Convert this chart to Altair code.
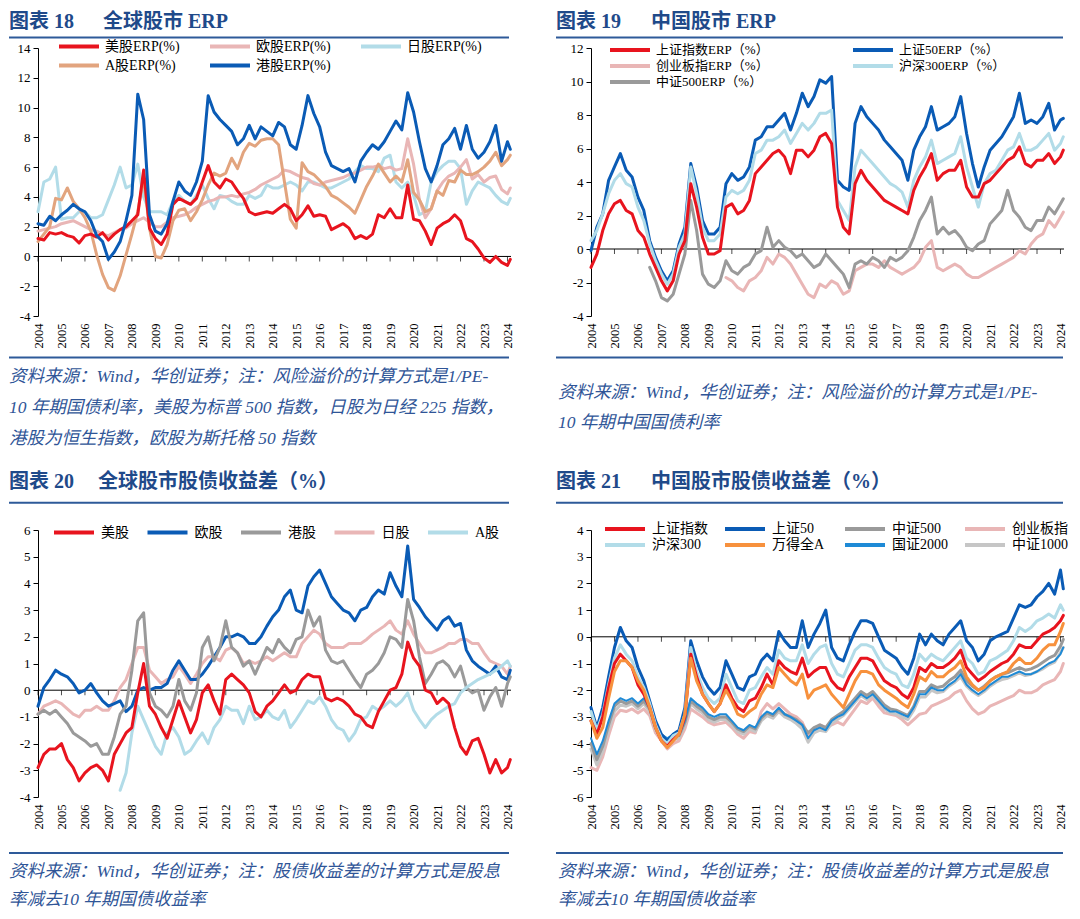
import altair as alt
import pandas as pd

# ---------------- shared x positions (quarterly readings) ----------------
YEARS = [2004 + 0.25 * i for i in range(81)] + [2024.12]
TICK_YEARS = list(range(2004, 2025))

# ---------------- 图表18 全球股市ERP ----------------
F18_NAMES = ["美股ERP(%)", "欧股ERP(%)", "日股ERP(%)", "A股ERP(%)", "港股ERP(%)"]
F18_US = [1.2,1.1,1.6,1.5,1.6,1.4,1.3,0.9,1.4,1.5, 1.3,1.6,1.1,1.5,1.8,2.0,2.4,2.8,5.8,1.9,
          1.2,0.8,1.5,3.5,3.9,3.7,3.5,3.9,5.0,6.1, 5.0,4.6,5.2,5.0,4.4,3.9,3.0,2.8,2.9,3.0,
          2.9,3.2,3.5,3.2,2.4,2.8,3.4,2.7,2.8,2.7, 1.8,2.0,2.2,1.9,1.2,1.4,1.2,1.5,2.8,2.6,
          3.2,2.6,2.6,4.8,2.5,2.4,1.7,0.8,1.9,2.2, 2.4,2.8,2.4,1.2,1.0,0.5,-0.1,-0.4,0.0,-0.4,
          -0.6,-0.2]
F18_EU = [1.7,1.8,1.9,2.0,2.2,2.3,2.4,2.2,2.0,1.8, 1.7,1.5,1.4,1.6,1.8,1.9,2.2,2.4,2.6,2.3,
          2.0,2.0,2.3,2.6,2.7,2.8,3.0,3.3,3.5,3.7, 3.8,4.0,4.0,4.1,4.0,4.2,4.3,4.5,4.8,5.0,
          5.2,5.4,5.8,5.7,5.5,5.3,5.2,4.9,4.8,5.0, 5.1,5.2,5.3,5.5,5.6,5.8,6.0,6.0,6.1,5.9,
          6.0,5.8,5.9,7.9,6.2,3.8,2.6,3.2,4.4,5.0, 5.4,5.6,6.0,6.5,5.2,5.5,5.0,5.3,5.4,4.5,
          4.2,4.6]
F18_JP = [3.0,5.0,5.2,6.0,2.5,2.6,2.6,3.0,3.0,2.6, 2.6,2.8,3.8,4.8,6.0,4.6,4.8,6.2,4.0,3.0,
          3.0,3.0,2.8,3.7,4.1,3.7,3.5,4.1,4.8,3.9, 3.2,4.1,4.0,3.7,3.5,3.5,4.1,3.9,4.1,4.8,
          4.6,4.6,4.8,5.0,4.8,4.4,5.0,5.0,4.8,4.6, 4.6,4.8,5.0,5.2,5.7,6.1,5.9,5.9,5.7,6.6,
          6.8,5.0,4.6,5.0,4.1,2.8,3.0,5.0,5.7,6.1, 6.4,6.4,5.9,3.5,4.4,5.0,4.8,4.6,4.1,3.7,
          3.5,3.9]
F18_A = [1.0,1.5,2.0,3.9,3.8,4.6,3.7,3.2,2.6,1.7, 0.1,-1.2,-2.1,-2.3,-1.3,0.1,1.5,3.0,5.3,1.9,
         0.0,-0.1,0.8,2.4,3.1,3.2,2.4,3.0,3.8,4.8, 5.6,5.4,5.6,6.6,5.9,7.0,7.6,7.4,7.8,7.9,
         7.9,7.5,5.0,2.5,1.9,6.3,5.7,5.5,5.1,4.7, 4.1,3.9,3.6,3.3,2.9,3.8,4.7,5.4,6.2,5.6,
         5.0,5.4,5.0,6.5,4.3,3.8,3.0,3.2,4.4,4.1, 5.1,5.0,5.8,5.5,5.5,5.7,6.0,6.4,7.0,6.1,
         6.5,6.8]
F18_HK = [2.2,2.1,2.7,2.4,2.8,3.1,3.5,3.2,3.0,2.4, 1.4,1.0,-0.2,0.3,1.0,2.4,4.1,10.9,9.2,2.8,
          1.7,1.5,2.2,3.7,5.0,4.4,4.1,5.0,6.4,10.8, 9.7,9.2,8.8,8.4,7.5,7.9,8.8,7.9,8.7,8.4,
          8.1,9.0,8.7,7.5,7.2,8.8,10.8,9.6,8.7,7.0, 6.1,5.9,5.7,5.9,5.0,6.4,7.0,7.5,7.2,7.7,
          8.4,9.1,8.5,11.0,9.7,7.7,5.9,5.0,6.1,7.5, 7.9,8.6,7.2,8.8,7.2,6.6,7.0,7.7,8.8,6.4,
          7.7,7.2]

# ---------------- 图表19 中国股市ERP ----------------
F19_NAMES = ["上证指数ERP（%）", "上证50ERP（%）", "创业板指ERP（%）", "沪深300ERP（%）", "中证500ERP（%）"]
F19_SH = [-1.1,-0.3,1.1,2.1,2.7,2.9,2.3,2.1,1.1,0.7, -0.3,-1.1,-1.9,-2.5,-1.9,-0.3,0.5,3.9,2.5,0.7,
          -0.3,-0.3,-0.1,2.5,2.7,2.1,2.3,2.9,4.5,4.9, 5.3,5.7,5.9,5.5,4.5,5.9,5.9,5.5,5.9,6.7,
          6.9,6.3,2.5,1.3,0.9,3.9,4.7,4.1,3.7,3.3, 2.9,2.7,2.5,2.3,2.1,3.5,4.3,4.9,5.7,4.1,
          4.5,4.7,4.7,5.3,3.7,3.1,3.1,3.9,4.1,4.5, 4.9,5.3,5.5,6.1,5.1,4.9,5.3,5.3,5.7,5.1,
          5.5,5.9]
F19_SH50 = [-0.1,1.3,2.1,4.1,4.9,5.7,4.7,4.3,3.1,2.3, 0.5,-0.5,-1.3,-1.9,-1.3,0.3,1.3,5.1,3.7,1.7,
            0.9,0.9,1.3,3.9,4.5,4.1,4.3,4.9,6.5,6.7, 7.3,7.3,7.7,8.1,7.1,8.1,9.3,8.5,9.1,10.1,
            9.9,10.3,4.1,3.7,3.5,7.5,8.5,7.9,7.5,7.1, 6.5,6.1,5.7,5.3,4.1,5.9,6.7,7.3,8.5,7.1,
            7.3,7.5,7.9,9.1,6.9,5.1,3.7,4.9,5.9,6.3, 6.7,7.3,7.9,9.3,7.5,7.7,7.5,7.9,8.7,7.1,
            7.7,7.8]
F19_CYB = [None] * 23 + [
    -1.7,-1.9,-2.3,-2.5,-1.9,-1.7,-1.3,-0.5,-0.9,-0.3, -0.5,-0.9,-1.5,-2.1,-2.7,-2.9,-2.1,-2.3,-1.9,-2.1,
    -2.7,-2.5,-1.3,-1.1,-0.9,-0.9,-1.1,-0.7,-1.1,-1.3, -1.5,-1.3,-1.1,-0.7,0.1,0.5,-1.1,-1.3,-1.1,-0.9,
    -1.1,-1.5,-1.7,-1.7,-1.5,-1.3,-1.1,-0.9,-0.7,-0.5, -0.1,-0.3,0.3,0.7,0.9,1.7,1.3,1.9,2.2]
F19_HS300 = [0.5,1.1,2.1,3.3,4.1,4.5,3.9,3.7,2.5,1.7, 0.3,-0.7,-1.5,-2.1,-1.5,0.1,0.9,4.9,3.3,1.3,
             0.5,0.5,0.9,3.1,3.5,3.3,3.5,4.1,5.7,5.9, 6.5,6.5,6.7,7.1,6.3,6.9,7.5,7.1,7.5,8.1,
             8.1,8.3,2.9,2.3,1.7,4.9,5.9,5.5,5.1,4.7, 4.3,3.9,3.7,3.4,2.5,4.1,4.9,5.5,6.5,5.1,
             5.3,5.5,5.7,6.7,4.9,3.7,2.5,3.9,4.5,4.7, 5.3,5.9,6.1,6.9,5.9,5.9,6.1,6.5,6.9,5.9,
             6.3,6.7]
F19_ZZ500 = [None] * 10 + [
    -1.1,-1.9,-2.9,-3.1,-2.7,-1.5,-0.3,2.9,1.1,-1.5, -2.1,-2.3,-1.9,-0.7,-1.3,-1.5,-1.1,-0.9,-0.3,-0.1,
    1.3,0.1,0.5,0.1,-0.1,-0.5,-0.3,-0.7,-1.1,-0.9, -0.3,-0.7,-1.1,-1.5,-2.3,-0.9,-0.7,-0.9,-0.5,-0.7,
    -1.1,-0.5,-0.7,-0.5,-0.1,0.7,1.7,2.3,3.1,0.9, 1.3,0.9,1.1,0.7,0.1,-0.1,0.3,0.5,1.5,1.9,
    2.3,3.5,2.3,1.9,1.3,1.1,1.7,1.7,2.5,2.1, 2.7,3.0]

# ---------------- 图表20 全球股市股债收益差 ----------------
F20_NAMES = ["美股", "欧股", "港股", "日股", "A股"]
F20_US = [-2.9,-2.4,-2.2,-2.2,-2.0,-2.6,-2.9,-3.4,-3.1,-2.9, -2.8,-3.0,-3.4,-2.4,-2.0,-1.6,-1.4,-0.1,1.0,-0.6,
          -0.9,-1.4,-1.8,-1.1,-0.4,-1.0,-1.6,-1.1,-0.1,0.2, -0.4,-0.9,0.4,0.6,0.4,0.2,-0.1,-0.8,-1.0,-0.6,
          -0.4,-0.1,0.2,-0.1,0.0,0.4,0.6,0.5,0.5,-0.3, -0.4,-0.3,-0.4,-0.6,-0.9,-1.0,-1.3,-1.4,-0.8,-0.4,
          0.0,0.1,0.6,1.8,1.2,0.9,0.0,-0.1,-0.5,-0.3, -0.5,-1.4,-2.1,-2.4,-1.9,-1.8,-2.4,-3.1,-2.6,-3.1,
          -2.9,-2.6]
F20_EU = [-0.6,0.1,0.4,0.75,0.6,0.5,0.25,-0.1,0.0,0.25, -0.1,-0.4,-0.6,-0.5,-0.4,-0.8,-0.6,0.0,0.1,0.0,
          0.1,0.1,0.25,0.75,1.1,0.75,0.4,0.4,0.6,0.9, 1.25,1.6,2.0,2.0,2.1,2.0,1.75,1.75,2.0,2.4,
          2.75,3.0,3.5,3.75,3.0,2.9,3.9,4.25,4.5,4.0, 3.5,3.25,3.0,2.9,2.6,3.0,3.1,3.5,3.75,3.6,
          4.4,3.9,3.5,5.4,3.4,3.1,2.75,2.5,2.25,2.6, 2.75,2.4,2.5,1.5,1.1,0.9,0.75,0.6,0.9,0.5,
          0.4,0.75]
F20_HK = [-0.9,-0.75,-0.9,-0.75,-1.0,-1.25,-1.6,-1.75,-1.9,-2.1, -2.0,-2.4,-2.4,-1.75,-0.9,-0.6,0.75,2.6,2.9,-0.1,
          -0.6,-0.75,-1.0,-0.6,0.4,-0.4,-0.75,-0.1,1.6,2.0, 1.1,1.6,2.6,1.6,1.4,0.9,1.1,0.6,1.1,1.6,
          1.4,1.9,1.6,1.4,1.9,2.0,3.0,2.4,2.75,1.5, 1.1,1.0,1.1,0.75,0.4,0.1,0.6,0.75,1.0,1.4,
          2.0,1.9,1.6,3.4,2.6,1.25,0.25,0.6,1.0,1.1, 0.9,0.5,0.9,0.1,-0.1,0.0,-0.75,-0.25,0.1,-0.6,
          0.25,0.5]
F20_JP = [-0.9,-0.6,-0.5,-0.4,-0.5,-0.7,-0.9,-1.0,-0.75,-0.75, -0.6,-0.75,-0.75,-0.4,0.1,0.4,1.0,1.6,1.6,0.75,
          0.5,0.25,0.4,0.5,0.9,0.6,0.25,0.6,1.0,1.25, 1.25,1.1,1.5,1.6,1.4,1.0,1.1,1.0,1.1,1.25,
          1.1,1.25,1.4,1.25,1.25,1.75,2.0,2.25,2.1,1.75, 1.6,1.6,1.6,1.75,1.75,1.75,1.9,2.1,2.25,2.4,
          2.6,2.25,2.1,2.6,2.1,1.75,1.4,1.4,1.5,1.6, 1.75,1.75,1.9,1.9,1.75,1.75,1.4,1.1,1.0,0.9,
          0.6,0.9]
F20_A = [None] * 14 + [
    -3.75,-3.1,-1.6,-0.6,-1.1,-1.6,-2.1,-2.4,-1.6,-1.4, -1.75,-2.4,-2.25,-1.9,-1.6,-2.0,-1.4,-1.1,-0.6,-0.75,
    -0.75,-1.25,-0.6,-1.1,-1.0,-0.75,-1.0,-1.1,-0.75,-1.4, -1.1,-0.75,-0.4,-0.5,-0.25,-0.6,-1.1,-1.4,-1.5,-1.9,
    -1.6,-1.1,-1.0,-0.6,-0.75,-0.6,-0.4,-0.6,-0.4,-0.1, -0.75,-1.1,-1.4,-1.1,-0.9,-0.75,-0.6,-0.5,-0.1,0.1,
    0.25,0.4,0.5,0.6,0.75,0.9,1.1,0.9]

# ---------------- 图表21 中国股市股债收益差 ----------------
F21_NAMES = ["上证指数", "上证50", "中证500", "创业板指", "沪深300", "万得全A", "国证2000", "中证1000"]
F21_SH = [-3.15,-3.65,-3.0,-1.9,-1.0,-0.65,-0.9,-1.15,-1.8,-2.15, -2.65,-3.4,-3.9,-4.1,-3.85,-3.65,-3.0,-0.65,-1.5,-2.15,
          -2.5,-2.8,-2.5,-1.8,-2.3,-2.65,-2.8,-2.4,-2.3,-1.9, -1.4,-1.8,-0.9,-1.15,-1.3,-1.4,-0.8,-1.5,-1.3,-1.15,
          -1.15,-1.65,-1.9,-2.0,-1.5,-1.15,-0.8,-0.8,-0.9,-1.3, -1.65,-1.8,-1.9,-2.15,-2.3,-1.9,-1.15,-1.3,-1.0,-1.15,
          -1.15,-1.0,-0.8,-0.5,-1.15,-1.4,-1.65,-1.5,-1.3,-1.15, -1.0,-0.9,-0.65,-0.3,-0.4,-0.4,-0.15,0.1,0.2,0.35,
          0.6,0.8]
F21_SH50 = [-2.65,-3.4,-2.65,-1.5,-0.4,0.35,-0.15,-0.4,-1.15,-1.65, -2.4,-3.15,-3.65,-3.9,-3.65,-3.5,-2.65,-0.15,-0.9,-1.5,
            -1.9,-2.15,-1.9,-0.9,-1.4,-1.9,-2.0,-1.5,-1.4,-0.9, -0.65,-0.9,0.2,-0.15,-0.4,-0.4,0.6,-0.4,0.1,0.5,
            1.0,-0.4,-0.8,-0.9,-0.3,0.2,0.6,0.6,0.5,0.0, -0.5,-0.65,-0.8,-1.15,-1.4,-0.8,0.1,-0.3,0.1,-0.15,
            -0.3,0.1,0.35,0.6,-0.15,-0.4,-0.9,-0.65,-0.15,0.0, 0.1,0.2,0.7,1.2,1.1,1.2,1.5,1.7,2.0,1.6,
            2.5,1.8]
F21_ZZ500 = [-4.0,-4.6,-4.1,-3.3,-2.6,-2.4,-2.5,-2.4,-2.6,-2.4, -2.7,-3.4,-3.7,-3.85,-3.7,-3.7,-3.2,-2.4,-2.6,-2.75,
             -3.0,-3.1,-3.0,-3.0,-3.2,-3.45,-3.55,-3.35,-3.45,-3.05, -2.85,-2.95,-2.7,-2.9,-3.0,-3.1,-3.3,-3.6,-3.4,-3.3,
             -3.4,-3.1,-2.95,-2.8,-2.55,-2.3,-2.05,-2.2,-2.05,-2.3, -2.55,-2.7,-2.75,-2.85,-2.95,-2.6,-2.05,-2.05,-1.8,-1.9,
             -1.85,-1.65,-1.5,-1.25,-1.65,-1.85,-2.0,-1.85,-1.65,-1.5, -1.4,-1.35,-1.25,-1.15,-1.25,-1.2,-1.1,-0.95,-0.8,-0.7,
             -0.35,-0.1]
F21_CYB = [-4.9,-5.0,-4.5,-3.7,-3.0,-2.75,-2.8,-2.7,-2.85,-2.7, -2.95,-3.6,-3.9,-4.2,-4.0,-3.9,-3.45,-2.7,-2.85,-3.0,
           -3.2,-3.3,-3.25,-3.2,-3.4,-3.65,-3.8,-3.55,-3.6,-2.8, -2.5,-2.7,-2.5,-2.7,-2.9,-3.0,-3.2,-3.7,-3.5,-3.3,
           -3.4,-3.3,-3.2,-3.3,-3.0,-2.7,-2.4,-2.5,-2.3,-2.6, -2.85,-2.9,-2.95,-3.1,-3.3,-3.1,-2.9,-2.85,-2.6,-2.5,
           -2.4,-2.3,-2.1,-2.0,-2.4,-2.7,-2.9,-2.8,-2.6,-2.5, -2.4,-2.3,-2.2,-2.0,-2.1,-2.1,-2.0,-1.8,-1.7,-1.6,
           -1.3,-1.0]
F21_HS300 = [-2.8,-3.5,-2.9,-1.8,-0.8,-0.3,-0.65,-0.9,-1.5,-1.9, -2.5,-3.3,-3.8,-4.0,-3.7,-3.6,-2.9,-0.4,-1.3,-1.9,
             -2.3,-2.5,-2.3,-1.4,-1.9,-2.4,-2.5,-2.0,-1.9,-1.5, -1.15,-1.4,-0.5,-0.8,-0.9,-0.9,-0.3,-1.0,-0.65,-0.4,
             -0.3,-1.0,-1.4,-1.5,-1.0,-0.5,-0.3,-0.3,-0.4,-0.8, -1.15,-1.3,-1.4,-1.8,-1.9,-1.4,-0.65,-0.9,-0.65,-0.8,
             -0.9,-0.65,-0.4,-0.15,-0.8,-1.0,-1.4,-1.3,-0.9,-0.8, -0.65,-0.5,-0.15,0.35,0.2,0.35,0.6,0.7,0.85,0.7,
             1.2,1.0]
F21_WDQA = [-3.15,-3.8,-3.4,-2.3,-1.3,-0.9,-0.9,-1.15,-1.65,-2.0, -2.65,-3.4,-3.9,-4.15,-3.9,-3.65,-2.9,-0.8,-1.65,-2.15,
            -2.5,-2.8,-2.5,-2.0,-2.4,-2.9,-3.0,-2.8,-2.65,-2.15, -1.8,-1.9,-1.15,-1.4,-1.65,-1.8,-1.4,-2.3,-2.0,-1.9,
            -1.8,-2.15,-2.4,-2.65,-2.15,-1.65,-1.3,-1.3,-1.4,-1.8, -2.0,-2.15,-2.3,-2.5,-2.65,-2.15,-1.5,-1.65,-1.3,-1.5,
            -1.5,-1.3,-1.15,-0.9,-1.5,-1.8,-2.0,-1.9,-1.65,-1.5, -1.4,-1.3,-1.0,-0.8,-1.0,-1.0,-0.8,-0.5,-0.3,-0.3,
            0.2,0.5]
F21_GZ2000 = [-3.8,-4.4,-3.9,-3.15,-2.5,-2.3,-2.4,-2.3,-2.5,-2.3, -2.65,-3.4,-3.65,-3.8,-3.65,-3.65,-3.15,-2.3,-2.5,-2.65,
              -2.9,-3.0,-2.9,-2.9,-3.15,-3.4,-3.5,-3.3,-3.4,-3.0, -2.8,-2.9,-2.65,-2.9,-3.0,-3.15,-3.3,-3.8,-3.5,-3.4,
              -3.5,-3.15,-3.0,-2.9,-2.65,-2.4,-2.15,-2.3,-2.15,-2.4, -2.65,-2.8,-2.8,-2.9,-3.0,-2.65,-2.15,-2.15,-1.9,-2.0,
              -2.0,-1.8,-1.65,-1.4,-1.8,-2.0,-2.15,-2.0,-1.8,-1.65, -1.5,-1.5,-1.4,-1.3,-1.4,-1.4,-1.3,-1.15,-1.0,-0.9,
              -0.65,-0.4]
F21_ZZ1000 = [-4.2,-4.8,-4.3,-3.5,-2.8,-2.55,-2.6,-2.5,-2.7,-2.5, -2.8,-3.5,-3.8,-4.0,-3.85,-3.8,-3.3,-2.5,-2.7,-2.85,
              -3.1,-3.2,-3.1,-3.1,-3.3,-3.55,-3.65,-3.45,-3.55,-3.15, -2.95,-3.05,-2.8,-3.0,-3.1,-3.25,-3.45,-3.95,-3.6,-3.5,
              -3.55,-3.25,-3.1,-2.95,-2.7,-2.45,-2.2,-2.35,-2.2,-2.45, -2.7,-2.85,-2.9,-3.0,-3.1,-2.75,-2.25,-2.25,-2.0,-2.1,
              -2.05,-1.85,-1.7,-1.5,-1.85,-2.05,-2.2,-2.05,-1.85,-1.7, -1.6,-1.55,-1.45,-1.35,-1.45,-1.4,-1.3,-1.2,-1.05,-0.95,
              -0.6,-0.4]

# ---------------- styling ----------------
FONT = "Liberation Serif, Noto Sans CJK SC"
TITLE_C = "#1F4A8A"
RULE_C = "#2E5A99"
NOTE_C = "#2F5597"
RED, BLUE, PINK, LBLUE = "#E8141E", "#0A5BB5", "#E9B6B6", "#B2DCE8"
TAN, GRAY, ORANGE, MBLUE, LGRAY = "#E2A47E", "#9A9A9A", "#F7913D", "#1E8AD6", "#C6C6C6"
W = 473
SYM = "M-4,0L4,0"
NOTE_FS = 17.5
T1 = -26.5   # title offset above the plot, top row


def make_panel(names, colors, values, order, widths, ydom, ystep, H, leg, texts, rules):
    rows = []
    for name, vals in zip(names, values):
        for x, v in zip(YEARS, vals):
            if v is not None:
                rows.append({"year": x, "value": v, "s": name})
    df = pd.DataFrame(rows)

    x_axis = alt.Axis(values=TICK_YEARS, format="d", labelAngle=-90, labelFont=FONT,
                      labelFontSize=12.5, labelColor="black", ticks=False, tickSize=0,
                      domain=False, grid=False, labelPadding=7, title=None,
                      labelOverlap=False, labelFlush=False, labelBound=False)
    yvals = list(range(ydom[0], ydom[1] + 1, ystep))
    y_axis = alt.Axis(values=yvals, labelExpr="'' + datum.value", title=None, grid=False,
                      domainColor="black", tickColor="black", tickSize=5, labelFont=FONT,
                      labelFontSize=13, labelColor="black", labelPadding=3, labelFlush=False)
    x_enc = alt.X("year:Q", scale=alt.Scale(domain=[2004, 2024.15], nice=False, zero=False), axis=x_axis)
    y_enc = alt.Y("value:Q", scale=alt.Scale(domain=list(ydom), nice=False, zero=False), axis=y_axis)
    legend = alt.Legend(orient="none", legendX=leg["x"], legendY=leg["y"], direction="horizontal",
                        columns=leg["cols"], title=None, symbolType=SYM, symbolSize=100,
                        symbolStrokeWidth=4, labelFont=FONT, labelFontSize=leg["fs"],
                        labelColor="black", labelOffset=leg["lo"], columnPadding=leg["cp"],
                        rowPadding=leg["rp"], gridAlign="all", padding=0)
    c_enc = alt.Color("s:N", scale=alt.Scale(domain=names, range=colors), legend=legend)

    layers = [
        alt.Chart(pd.DataFrame({"value": [0.0]})).mark_rule(color="black", strokeWidth=1).encode(y=y_enc),
        alt.Chart(pd.DataFrame({"year": TICK_YEARS, "value": [0.0] * len(TICK_YEARS)}))
        .mark_tick(orient="vertical", size=5, thickness=1, color="black", yOffset=2.5)
        .encode(x=x_enc, y=y_enc),
    ]
    for name in order:
        sub = df[df["s"] == name]
        layers.append(
            alt.Chart(sub).mark_line(strokeWidth=widths.get(name, 3), strokeJoin="round", strokeCap="round")
            .encode(x=x_enc, y=y_enc, color=c_enc)
        )
    for (t, x, y, size, color, weight, style) in texts:
        layers.append(
            alt.Chart(pd.DataFrame({"t": [t]}))
            .mark_text(align="left", baseline="middle", font=FONT, fontSize=size, color=color,
                       fontWeight=weight, fontStyle=style)
            .encode(text="t:N", x=alt.value(x), y=alt.value(y))
        )
    for (x1, x2, y) in rules:
        layers.append(
            alt.Chart(pd.DataFrame({"a": [0]})).mark_rule(color=RULE_C, strokeWidth=2)
            .encode(x=alt.value(x1), x2=alt.value(x2), y=alt.value(y))
        )
    return alt.layer(*layers).properties(width=W, height=H)


H1, H2 = 268, 267

p1 = make_panel(
    F18_NAMES, [RED, PINK, LBLUE, TAN, BLUE], [F18_US, F18_EU, F18_JP, F18_A, F18_HK],
    ["日股ERP(%)", "欧股ERP(%)", "A股ERP(%)", "美股ERP(%)", "港股ERP(%)"], {},
    (-4, 14), 2, H1,
    {"x": 34, "y": -8.5, "cols": 3, "fs": 14, "lo": 19, "cp": 22, "rp": 3},
    [("图表 18", -29, T1, 20, TITLE_C, "bold", "normal"),
     ("全球股市 ERP", 65, T1, 20, TITLE_C, "bold", "normal"),
     ("资料来源：Wind，华创证券；注：风险溢价的计算方式是1/PE-", -29, 328.5, NOTE_FS, NOTE_C, "normal", "italic"),
     ("10 年期国债利率，美股为标普 500 指数，日股为日经 225 指数，", -29, 360, NOTE_FS, NOTE_C, "normal", "italic"),
     ("港股为恒生指数，欧股为斯托格 50 指数", -29, 391, NOTE_FS, NOTE_C, "normal", "italic")],
    [(-29, 471, -10.5), (-29, 471, 309.5)],
)

p2 = make_panel(
    F19_NAMES, [RED, BLUE, PINK, LBLUE, GRAY], [F19_SH, F19_SH50, F19_CYB, F19_HS300, F19_ZZ500],
    ["创业板指ERP（%）", "中证500ERP（%）", "上证50ERP（%）", "沪深300ERP（%）", "上证指数ERP（%）"], {},
    (-4, 12), 2, H1,
    {"x": 32, "y": -5, "cols": 2, "fs": 13, "lo": 19, "cp": 76, "rp": 0},
    [("图表 19", -35, T1, 20, TITLE_C, "bold", "normal"),
     ("中国股市 ERP", 60, T1, 20, TITLE_C, "bold", "normal"),
     ("资料来源：Wind，华创证券；注：风险溢价的计算方式是1/PE-", -33, 344.5, NOTE_FS, NOTE_C, "normal", "italic"),
     ("10 年期中国国债利率", -33, 374.5, NOTE_FS, NOTE_C, "normal", "italic")],
    [(-35, 472, -10.5), (-35, 472, 309.5)],
)

p3 = make_panel(
    F20_NAMES, [RED, BLUE, GRAY, PINK, LBLUE], [F20_US, F20_EU, F20_HK, F20_JP, F20_A],
    ["日股", "欧股", "港股", "A股", "美股"], {},
    (-4, 6), 1, H2,
    {"x": 29, "y": -4.5, "cols": 5, "fs": 14, "lo": 20, "cp": 10.5, "rp": 2},
    [("图表 20", -29, -48.3, 20, TITLE_C, "bold", "normal"),
     ("全球股市股债收益差（%）", 60, -48.3, 20, TITLE_C, "bold", "normal"),
     ("资料来源：Wind，华创证券；注：股债收益差的计算方式是股息", -29, 342, NOTE_FS, NOTE_C, "normal", "italic"),
     ("率减去10 年期国债收益率", -29, 370, NOTE_FS, NOTE_C, "normal", "italic")],
    [(-29, 471, -27.3), (-29, 471, 323)],
)

p4 = make_panel(
    F21_NAMES, [RED, BLUE, GRAY, PINK, LBLUE, ORANGE, MBLUE, LGRAY],
    [F21_SH, F21_SH50, F21_ZZ500, F21_CYB, F21_HS300, F21_WDQA, F21_GZ2000, F21_ZZ1000],
    ["创业板指", "中证1000", "中证500", "国证2000", "上证50", "沪深300", "上证指数", "万得全A"],
    {"国证2000": 2},
    (-6, 4), 1, H2,
    {"x": 27, "y": -8, "cols": 4, "fs": 14, "lo": 20, "cp": 9, "rp": 0},
    [("图表 21", -35, -48.3, 20, TITLE_C, "bold", "normal"),
     ("中国股市股债收益差（%）", 60, -48.3, 20, TITLE_C, "bold", "normal"),
     ("资料来源：Wind，华创证券；注：股债收益差的计算方式是股息", -33, 342, NOTE_FS, NOTE_C, "normal", "italic"),
     ("率减去10 年期国债收益率", -33, 370, NOTE_FS, NOTE_C, "normal", "italic")],
    [(-35, 472, -27.3), (-35, 472, 323)],
)

chart = (
    alt.concat(p1, p2, p3, p4, columns=2, spacing={"row": 214, "column": 80}, bounds="flush")
    .resolve_scale(color="independent", x="independent", y="independent")
    .properties(padding={"top": 3, "left": 0, "right": 0, "bottom": 0}, background="white")
    .configure_view(stroke=None)
)

chart.save("out.html", embed_options={"renderer": "svg", "actions": False})
